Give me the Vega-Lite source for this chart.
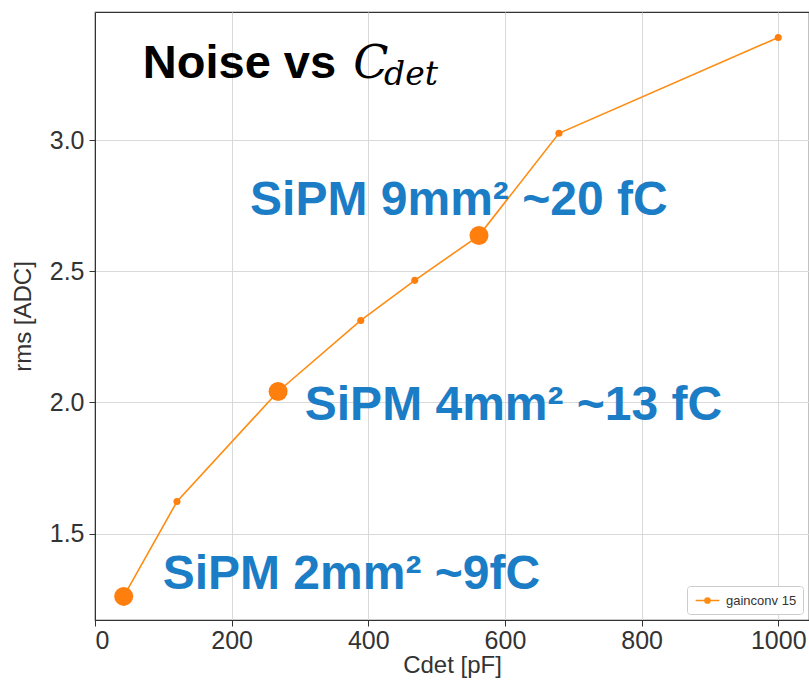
{
  "$schema": "https://vega.github.io/schema/vega-lite/v6.json",
  "width": 714,
  "height": 608,
  "autosize": "none",
  "padding": {"left": 95, "top": 12, "right": 0, "bottom": 61},
  "background": "white",
  "config": {
    "font": "Liberation Sans",
    "view": {"stroke": "#333333", "strokeWidth": 1.2},
    "axis": {
      "labelFont": "Liberation Sans",
      "titleFont": "Liberation Sans",
      "labelFontSize": 25,
      "titleFontSize": 24,
      "titleFontWeight": "normal",
      "labelColor": "#333333",
      "titleColor": "#333333",
      "gridColor": "#d9d9d9",
      "gridWidth": 1,
      "domainColor": "#333333",
      "tickColor": "#333333",
      "tickSize": 6
    }
  },
  "datasets": {
    "noise": [
      {"cdet": 42, "rms": 1.26, "sipm": "yes", "series": "gainconv 15"},
      {"cdet": 120, "rms": 1.622, "sipm": "no", "series": "gainconv 15"},
      {"cdet": 268, "rms": 2.042, "sipm": "yes", "series": "gainconv 15"},
      {"cdet": 389, "rms": 2.313, "sipm": "no", "series": "gainconv 15"},
      {"cdet": 468, "rms": 2.466, "sipm": "no", "series": "gainconv 15"},
      {"cdet": 562, "rms": 2.637, "sipm": "yes", "series": "gainconv 15"},
      {"cdet": 679, "rms": 3.027, "sipm": "no", "series": "gainconv 15"},
      {"cdet": 1000, "rms": 3.393, "sipm": "no", "series": "gainconv 15"}
    ],
    "notes": [
      {"label": "SiPM 9mm² ~20 fC", "cdet": 227, "rms": 2.714},
      {"label": "SiPM 4mm² ~13 fC", "cdet": 307, "rms": 1.935},
      {"label": "SiPM 2mm² ~9fC", "cdet": 99, "rms": 1.29}
    ],
    "title1": [{"label": "Noise vs", "cdet": 70, "rms": 3.237}],
    "title2": [{"label": "C", "cdet": 378, "rms": 3.237}],
    "title3": [{"label": "det", "cdet": 423, "rms": 3.21}]
  },
  "layer": [
    {
      "data": {"name": "noise"},
      "mark": {"type": "line", "strokeWidth": 1.6},
      "encoding": {
        "x": {
          "field": "cdet", "type": "quantitative",
          "scale": {"domain": [0, 1045], "nice": false, "zero": false},
          "axis": {"values": [0, 200, 400, 600, 800, 1000], "format": "d", "title": "Cdet [pF]", "titlePadding": 0, "labelPadding": 2}
        },
        "y": {
          "field": "rms", "type": "quantitative",
          "scale": {"domain": [1.17, 3.49], "nice": false, "zero": false},
          "axis": {"values": [1.5, 2.0, 2.5, 3.0], "format": ".1f", "title": "rms [ADC]", "titlePadding": 14, "labelPadding": 5}
        },
        "color": {
          "field": "series", "type": "nominal",
          "scale": {"range": ["#ff8c12"]},
          "legend": {
            "title": null,
            "orient": "bottom-right",
            "offset": 6,
            "labelFontSize": 13,
            "labelColor": "#333333",
            "symbolType": "M-1.6,0L-0.35,0M0.35,0L1.6,0M-0.35,0A0.35,0.35 0 1,0 0.35,0A0.35,0.35 0 1,0 -0.35,0",
            "symbolSize": 220,
            "symbolStrokeWidth": 1.5,
            "symbolFillColor": "#ff8c12",
            "symbolStrokeColor": "#ff8c12",
            "strokeColor": "#cccccc",
            "fillColor": "white",
            "padding": 6,
            "cornerRadius": 3,
            "symbolOffset": 6,
            "labelOffset": 10
          }
        }
      }
    },
    {
      "data": {"name": "noise"},
      "mark": {"type": "point", "filled": true, "opacity": 1, "color": "#ff7f0e"},
      "encoding": {
        "x": {"field": "cdet", "type": "quantitative"},
        "y": {"field": "rms", "type": "quantitative"},
        "size": {
          "field": "sipm", "type": "nominal",
          "scale": {"domain": ["no", "yes"], "range": [50, 360]},
          "legend": null
        }
      }
    },
    {
      "data": {"name": "notes"},
      "mark": {"type": "text", "align": "left", "baseline": "alphabetic", "fontSize": 48, "fontWeight": "bold", "color": "#1b7dc5", "font": "Liberation Sans"},
      "encoding": {
        "x": {"field": "cdet", "type": "quantitative"},
        "y": {"field": "rms", "type": "quantitative"},
        "text": {"field": "label"}
      }
    },
    {
      "data": {"name": "title1"},
      "mark": {"type": "text", "align": "left", "baseline": "alphabetic", "fontSize": 47, "fontWeight": "bold", "color": "black", "font": "Liberation Sans"},
      "encoding": {
        "x": {"field": "cdet", "type": "quantitative"},
        "y": {"field": "rms", "type": "quantitative"},
        "text": {"field": "label"}
      }
    },
    {
      "data": {"name": "title2"},
      "mark": {"type": "text", "align": "left", "baseline": "alphabetic", "fontSize": 46, "fontStyle": "italic", "color": "black", "font": "DejaVu Serif"},
      "encoding": {
        "x": {"field": "cdet", "type": "quantitative"},
        "y": {"field": "rms", "type": "quantitative"},
        "text": {"field": "label"}
      }
    },
    {
      "data": {"name": "title3"},
      "mark": {"type": "text", "align": "left", "baseline": "alphabetic", "fontSize": 33, "fontStyle": "italic", "color": "black", "font": "DejaVu Serif"},
      "encoding": {
        "x": {"field": "cdet", "type": "quantitative"},
        "y": {"field": "rms", "type": "quantitative"},
        "text": {"field": "label"}
      }
    }
  ]
}
